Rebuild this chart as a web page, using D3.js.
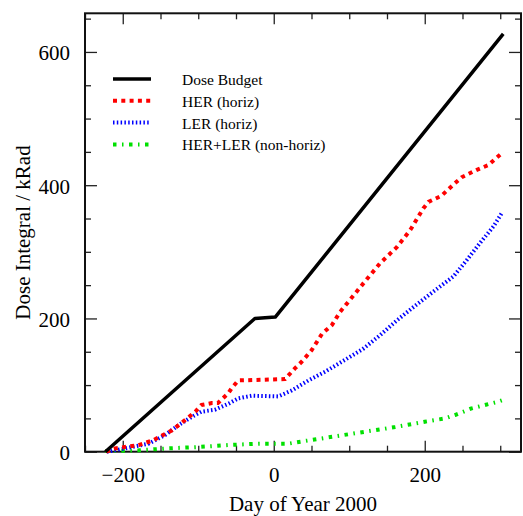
<!DOCTYPE html>
<html>
<head>
<meta charset="utf-8">
<script src="https://cdn.jsdelivr.net/npm/d3@7"></script>
<style>
  body { margin: 0; background: #fff; }
  svg text { font-family: "Liberation Serif", "Times New Roman", serif; fill: #000; }
</style>
</head>
<body>
<svg id="chart" width="523" height="516"></svg>
<script>
// dose budget, piecewise linear
const budgetDays = [-223, -25, 2, 304];
const budgetDose = [0, 200, 202, 627];

const herDays = [-222, -210, -179, -160, -135, -118, -104, -96, -82, -74, -60, -56, -47, 15, 28, 37, 50, 64, 77, 88, 101, 119, 141, 163, 181, 198, 205, 222, 240, 249, 269, 284, 302];
const herDose = [0, 5, 10, 17, 32, 47, 60, 70, 73, 73, 88, 95, 107, 109, 125, 135, 152, 177, 190, 210, 228, 253, 283, 307, 333, 365, 375, 384, 403, 412, 423, 430, 448];

const lerDays = [-221, -197, -166, -144, -126, -109, -96, -78, -60, -47, -29, 6, 24, 46, 68, 93, 118, 141, 163, 185, 211, 238, 256, 273, 291, 302];
const lerDose = [0, 5, 12, 25, 40, 52, 60, 63, 72, 80, 84, 83, 92, 107, 120, 137, 154, 175, 197, 217, 240, 263, 288, 313, 338, 358];

const nhDays = [-223, -179, -140, -100, -60, -20, 19, 41, 81, 121, 161, 200, 227, 240, 262, 297, 302];
const nhDose = [1, 2, 5, 7, 10, 12, 12, 16, 23, 30, 37, 45, 50, 55, 65, 75, 77];

const seriesNames = ['Dose Budget', 'HER (horiz)', 'LER (horiz)', 'HER+LER (non-horiz)'];
const seriesColors = ['#000', '#ff0000', '#0000ff', '#00e000'];
const seriesDash = [null, '4,4.3', '1.5,2.3', '3.5,5.5,1.5,5.5'];
const seriesWidth = [3.5, 4, 4, 4];

const xMajor = [-200, 0, 200];
const yMajor = [0, 200, 400, 600];

const margin = { left: 85, right: 2, top: 13.3, bottom: 64.3 };
const W = 523, H = 516;

const svg = d3.select('#chart');

const x = d3.scaleLinear().domain([-250, 327.5]).range([margin.left, W - margin.right]);
const y = d3.scaleLinear().domain([0, 658]).range([H - margin.bottom, margin.top]);

const xMinor = d3.range(-250, 327, 50).filter(v => !xMajor.includes(v));
const yMinor = d3.range(0, 658, 50).filter(v => !yMajor.includes(v));

const pb = H - margin.bottom, pt = margin.top, pl = margin.left, pr = W - margin.right;

function styleAxis(g) {
  g.select('.domain').remove();
  g.selectAll('.tick line').attr('stroke', '#222').attr('stroke-width', 1.3);
  g.selectAll('.tick text').attr('font-size', 21);
}

// bottom
svg.append('g').attr('transform', `translate(0,${pb})`)
  .call(d3.axisBottom(x).tickValues(xMajor).tickSize(-11).tickPadding(15).tickFormat(d3.format('d')))
  .call(styleAxis);
svg.append('g').attr('transform', `translate(0,${pb})`)
  .call(d3.axisBottom(x).tickValues(xMinor).tickSize(-6).tickFormat(''))
  .call(styleAxis);
// top
svg.append('g').attr('transform', `translate(0,${pt})`)
  .call(d3.axisTop(x).tickValues(xMajor).tickSize(-11).tickFormat(''))
  .call(styleAxis);
svg.append('g').attr('transform', `translate(0,${pt})`)
  .call(d3.axisTop(x).tickValues(xMinor).tickSize(-6).tickFormat(''))
  .call(styleAxis);
// left
svg.append('g').attr('transform', `translate(${pl},0)`)
  .call(d3.axisLeft(y).tickValues(yMajor).tickSize(-12).tickPadding(15).tickFormat(d3.format('d')))
  .call(styleAxis)
  .selectAll('.tick text').attr('dy', '0.38em');
svg.append('g').attr('transform', `translate(${pl},0)`)
  .call(d3.axisLeft(y).tickValues(yMinor).tickSize(-6).tickFormat(''))
  .call(styleAxis);
// right
svg.append('g').attr('transform', `translate(${pr},0)`)
  .call(d3.axisRight(y).tickValues(yMajor).tickSize(-12).tickFormat(''))
  .call(styleAxis);
svg.append('g').attr('transform', `translate(${pr},0)`)
  .call(d3.axisRight(y).tickValues(yMinor).tickSize(-6).tickFormat(''))
  .call(styleAxis);

// frame
svg.append('rect')
  .attr('x', pl).attr('y', pt)
  .attr('width', pr - pl).attr('height', pb - pt)
  .attr('fill', 'none').attr('stroke', '#111').attr('stroke-width', 2);

// axis titles
svg.append('text')
  .attr('x', (pl + pr) / 2).attr('y', 511)
  .attr('text-anchor', 'middle').attr('font-size', 21)
  .text('Day of Year 2000');
svg.append('text')
  .attr('transform', `translate(30,${(pt + pb) / 2}) rotate(-90)`)
  .attr('text-anchor', 'middle').attr('font-size', 21)
  .text('Dose Integral / kRad');

const line = d3.line().x(d => x(d[0])).y(d => y(d[1]));
const series = [
  d3.zip(budgetDays, budgetDose),
  d3.zip(herDays, herDose),
  d3.zip(lerDays, lerDose),
  d3.zip(nhDays, nhDose)
];

const plot = svg.append('g');
// draw back to front so budget stays on top
[3, 2, 1, 0].forEach(i => {
  plot.append('path')
    .datum(series[i])
    .attr('d', line)
    .attr('fill', 'none')
    .attr('stroke', seriesColors[i])
    .attr('stroke-width', seriesWidth[i])
    .attr('stroke-dasharray', seriesDash[i])
    .attr('stroke-linejoin', 'round');
});

// legend
const legend = svg.append('g').attr('transform', 'translate(113,79)');
seriesNames.forEach((name, i) => {
  const row = legend.append('g').attr('transform', `translate(0,${i * 21.8})`);
  row.append('line')
    .attr('x1', 0).attr('x2', 38).attr('y1', 0).attr('y2', 0)
    .attr('stroke', seriesColors[i])
    .attr('stroke-width', seriesWidth[i])
    .attr('stroke-dasharray', seriesDash[i]);
  row.append('text')
    .attr('x', 69).attr('y', 6)
    .attr('font-size', 15.5)
    .text(name);
});
</script>
</body>
</html>
